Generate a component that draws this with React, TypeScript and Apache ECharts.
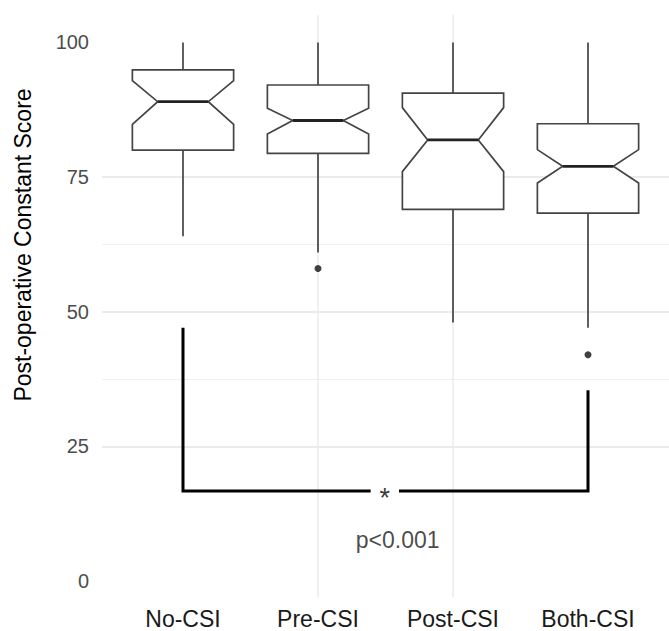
import React, { useEffect, useRef } from "react";
import * as echarts from "echarts";

const categories = ["No-CSI", "Pre-CSI", "Post-CSI", "Both-CSI"];
const whiskerLow = [64, 61, 48, 47];
const q1 = [80.0, 79.4, 69.0, 68.3];
const notchLow = [84.8, 83.0, 76.0, 73.9];
const median = [89.0, 85.5, 81.9, 77.0];
const notchHigh = [92.9, 87.8, 87.9, 80.1];
const q3 = [94.9, 92.1, 90.6, 84.9];
const whiskerHigh = [100, 100, 100, 100];
const outliers = [
  [2, 58],
  [4, 42],
];
const yMajorTicks = [0, 25, 50, 75, 100];
const yMinorTicks = [12.5, 37.5, 62.5, 87.5];
const bracketLeft = [
  [1, 47],
  [1, 16.7],
  [2.39, 16.7],
];
const bracketRight = [
  [2.6, 16.7],
  [4, 16.7],
  [4, 35.4],
];
const starPos = [2.495, 16.7];
const pValueText = "p<0.001";
const pValuePos = [2.59, 7.6];
const yTitle = "Post-operative Constant Score";

const FONT = "Liberation Sans, Arial, Helvetica, sans-serif";
const GRID = "#ebebeb";
const LINE = "#444444";

export default function App() {
  const ref = useRef<HTMLDivElement>(null);
  useEffect(() => {
    if (!ref.current) return;
    const chart = echarts.init(ref.current, undefined, { renderer: "svg" });
    const boxData = categories.map((_, i) => [
      i + 1,
      whiskerLow[i],
      q1[i],
      notchLow[i],
      median[i],
      notchHigh[i],
      q3[i],
      whiskerHigh[i],
    ]);
    const option: any = {
      animation: false,
      backgroundColor: "#ffffff",
      textStyle: { fontFamily: FONT },
      grid: { left: 102, right: -5, top: 15, bottom: 34 },
      xAxis: {
        type: "value",
        min: 0.4,
        max: 4.6,
        axisLine: { show: false },
        axisTick: { show: false, customValues: [1, 2, 3, 4] },
        axisLabel: {
          customValues: [1, 2, 3, 4],
          formatter: (v: number) => categories[Math.round(v) - 1] ?? "",
          color: "#1a1a1a",
          fontSize: 23,
          margin: 10,
          fontFamily: FONT,
        },
        splitLine: {
          show: true,
          showMinLine: false,
          showMaxLine: false,
          lineStyle: { color: GRID, width: 1.5 },
        },
      },
      yAxis: [
        {
          type: "value",
          min: -3,
          max: 105.1,
          axisLine: { show: false },
          axisTick: { show: false, customValues: yMajorTicks },
          axisLabel: {
            customValues: yMajorTicks,
            color: "#4d4d4d",
            fontSize: 20,
            margin: 13,
            fontFamily: FONT,
          },
          splitLine: {
            show: true,
            showMinLine: false,
            showMaxLine: false,
            lineStyle: { color: GRID, width: 1.8 },
          },
        },
        {
          type: "value",
          min: -3,
          max: 105.1,
          position: "left",
          axisLine: { show: false },
          axisTick: { show: false, customValues: yMinorTicks },
          axisLabel: { show: false, customValues: yMinorTicks },
          splitLine: {
            show: true,
            showMinLine: false,
            showMaxLine: false,
            lineStyle: { color: "#f0f0f0", width: 1.2 },
          },
        },
      ],
      graphic: [
        {
          type: "text",
          x: 23,
          y: 245,
          rotation: Math.PI / 2,
          style: {
            text: yTitle,
            fontSize: 23,
            fontFamily: FONT,
            fill: "#000000",
            textAlign: "center",
            textVerticalAlign: "middle",
          },
        },
      ],
      series: [
        {
          type: "custom",
          data: boxData,
          encode: { x: 0, y: [1, 2, 3, 4, 5, 6, 7] },
          z: 3,
          renderItem: (params: any, api: any) => {
            const x = api.value(0);
            const lo = api.value(1);
            const a = api.value(2);
            const nl = api.value(3);
            const md = api.value(4);
            const nh = api.value(5);
            const b = api.value(6);
            const hi = api.value(7);
            const hw = 0.375;
            const indent = hw * 0.5;
            const p = (xx: number, yy: number) => api.coord([xx, yy]);
            const pts = [
              p(x - hw, b),
              p(x - hw, nh),
              p(x - hw + indent, md),
              p(x - hw, nl),
              p(x - hw, a),
              p(x + hw, a),
              p(x + hw, nl),
              p(x + hw - indent, md),
              p(x + hw, nh),
              p(x + hw, b),
            ];
            const top = p(x, hi);
            const q3p = p(x, b);
            const q1p = p(x, a);
            const bot = p(x, lo);
            const m1 = p(x - hw + indent, md);
            const m2 = p(x + hw - indent, md);
            const ws = { stroke: LINE, lineWidth: 1.7 };
            return {
              type: "group",
              children: [
                {
                  type: "line",
                  shape: { x1: top[0], y1: top[1], x2: q3p[0], y2: q3p[1] },
                  style: ws,
                },
                {
                  type: "line",
                  shape: { x1: q1p[0], y1: q1p[1], x2: bot[0], y2: bot[1] },
                  style: ws,
                },
                {
                  type: "polygon",
                  shape: { points: pts },
                  style: { fill: "#ffffff", stroke: LINE, lineWidth: 1.7 },
                },
                {
                  type: "line",
                  shape: { x1: m1[0], y1: m1[1], x2: m2[0], y2: m2[1] },
                  style: { stroke: "#222222", lineWidth: 2.8 },
                },
              ],
            };
          },
        },
        {
          type: "scatter",
          data: outliers,
          symbol: "circle",
          symbolSize: 7,
          itemStyle: { color: "#111111" },
          z: 4,
        },
        {
          type: "line",
          data: bracketLeft,
          symbol: "none",
          lineStyle: { color: "#000000", width: 3, cap: "butt", join: "miter" },
          z: 5,
        },
        {
          type: "line",
          data: bracketRight,
          symbol: "none",
          lineStyle: { color: "#000000", width: 3, cap: "butt", join: "miter" },
          z: 5,
        },
        {
          type: "scatter",
          data: [starPos],
          symbol: "circle",
          symbolSize: 1,
          itemStyle: { color: "rgba(0,0,0,0)" },
          label: {
            show: true,
            position: "inside",
            formatter: "*",
            fontSize: 27,
            fontFamily: FONT,
            color: "#000000",
            offset: [0, 7],
          },
          z: 6,
        },
        {
          type: "scatter",
          data: [pValuePos],
          symbol: "circle",
          symbolSize: 1,
          itemStyle: { color: "rgba(0,0,0,0)" },
          label: {
            show: true,
            position: "inside",
            formatter: pValueText,
            fontSize: 23,
            fontFamily: FONT,
            color: "#1a1a1a",
          },
          z: 6,
        },
      ],
    };
    chart.setOption(option);
    return () => chart.dispose();
  }, []);
  return (
    <div
      ref={ref}
      style={{ position: "fixed", left: 0, top: 0, width: 669, height: 631 }}
    />
  );
}
